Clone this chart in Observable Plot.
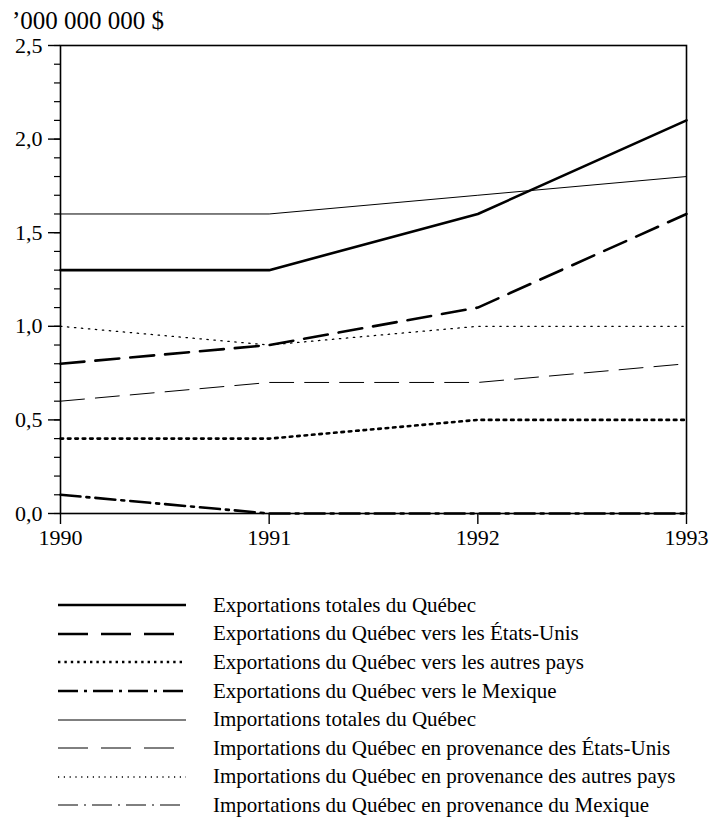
<!DOCTYPE html>
<html>
<head>
<meta charset="utf-8">
<script src="https://cdn.jsdelivr.net/npm/d3@7"></script>
<script src="https://cdn.jsdelivr.net/npm/@observablehq/plot@0.6"></script>
<style>
  html, body { margin: 0; padding: 0; background: #fff; }
  #wrap { position: relative; width: 724px; height: 836px; font-family: "Liberation Serif", serif; color: #000; }
  #title { position: absolute; left: 12px; top: 8px; font-size: 25px; line-height: 1; font-family: "Liberation Serif", serif; }
  #chart { position: absolute; left: 0; top: 0; }
  #chart svg text { font-family: "Liberation Serif", serif !important; }
  #legend { position: absolute; left: 58px; top: 591px; }
  .row { display: flex; align-items: center; height: 28.6px; }
  .row svg { width: 128px; height: 10px; margin-right: 27px; }
  .row span { font-size: 21px; white-space: nowrap; font-family: "Liberation Serif", serif; }
</style>
</head>
<body>
<div id="wrap">
  <div id="chart"></div>
  <div id="title">’000 000 000 $</div>
  <div id="legend"></div>
</div>
<script>
const years = [1990, 1991, 1992, 1993];
const seriesNames = [
  "Exportations totales du Québec",
  "Exportations du Québec vers les États-Unis",
  "Exportations du Québec vers les autres pays",
  "Exportations du Québec vers le Mexique",
  "Importations totales du Québec",
  "Importations du Québec en provenance des États-Unis",
  "Importations du Québec en provenance des autres pays",
  "Importations du Québec en provenance du Mexique"
];
const exportTotal  = [1.3, 1.3, 1.6, 2.1];
const exportUS     = [0.8, 0.9, 1.1, 1.6];
const exportOther  = [0.4, 0.4, 0.5, 0.5];
const exportMexico = [0.1, 0.0, 0.0, 0.0];
const importTotal  = [1.6, 1.6, 1.7, 1.8];
const importUS     = [0.6, 0.7, 0.7, 0.8];
const importOther  = [1.0, 0.9, 1.0, 1.0];
const importMexico = [0.0, 0.0, 0.0, 0.0];
const yTickLabels = ["0,0", "0,5", "1,0", "1,5", "2,0", "2,5"];

const seriesValues = [exportTotal, exportUS, exportOther, exportMexico, importTotal, importUS, importOther, importMexico];
const styles = [
  {strokeWidth: 2.6, dash: null, legendDash: null},
  {strokeWidth: 2.6, dash: "24,11", legendDash: "30,13"},
  {strokeWidth: 2.6, dash: "2.6,4.8", legendDash: "2.4,4"},
  {strokeWidth: 2.6, dash: "20,6,3,6", legendDash: "20,6,3,6"},
  {strokeWidth: 1, dash: null, legendDash: null},
  {strokeWidth: 1, dash: "24,11", legendDash: "30,13"},
  {strokeWidth: 1.3, dash: "1.4,5.6", legendDash: "1.2,4.6"},
  {strokeWidth: 1, dash: "20,6,2,6", legendDash: "20,6,2,6"}
];

const table = [];
seriesNames.forEach((name, i) => {
  years.forEach((yr, j) => table.push({series: name, year: yr, value: seriesValues[i][j]}));
});

const lineMarks = seriesNames.map((name, i) => Plot.line(table.filter(d => d.series === name), {
  x: "year", y: "value", stroke: "black",
  strokeWidth: styles[i].strokeWidth,
  strokeDasharray: styles[i].dash || undefined,
  strokeLinejoin: "miter"
}));

const yMajor = yTickLabels.map(s => +s.replace(",", "."));
const yMinor = d3.range(0, 26).map(k => k / 10);
const FONT = "'Liberation Serif', serif";

const chart = Plot.plot({
  width: 724,
  height: 560,
  marginTop: 45,
  marginLeft: 60,
  marginRight: 38,
  marginBottom: 47,
  style: {fontFamily: FONT, fontSize: "22px", color: "black", background: "transparent"},
  x: {domain: [1990, 1993], label: null},
  y: {domain: [0, 2.5], label: null},
  marks: [
    ...lineMarks,
    Plot.frame({stroke: "black", strokeWidth: 1.6}),
    Plot.axisY(yMinor, {tickSize: 6, text: null, strokeWidth: 1.2, label: null}),
    Plot.axisY(yMajor, {tickSize: 12, tickPadding: 6, strokeWidth: 1.4,
      tickFormat: d => yTickLabels[yMajor.indexOf(d)], fontSize: 22, fontFamily: FONT, label: null}),
    Plot.axisX(years, {tickSize: 11, tickPadding: 5, strokeWidth: 1.4,
      tickFormat: d => String(d), fontSize: 22, fontFamily: FONT, label: null})
  ]
});
document.getElementById("chart").appendChild(chart);

const legend = document.getElementById("legend");
seriesNames.forEach((name, i) => {
  const row = document.createElement("div");
  row.className = "row";
  const ns = "http://www.w3.org/2000/svg";
  const svg = document.createElementNS(ns, "svg");
  const ln = document.createElementNS(ns, "line");
  ln.setAttribute("x1", 0); ln.setAttribute("x2", 128);
  ln.setAttribute("y1", 5); ln.setAttribute("y2", 5);
  ln.setAttribute("stroke", "black");
  ln.setAttribute("stroke-width", styles[i].strokeWidth);
  if (styles[i].legendDash) ln.setAttribute("stroke-dasharray", styles[i].legendDash);
  svg.appendChild(ln);
  row.appendChild(svg);
  const sp = document.createElement("span");
  sp.textContent = name;
  row.appendChild(sp);
  legend.appendChild(row);
});
</script>
</body>
</html>
